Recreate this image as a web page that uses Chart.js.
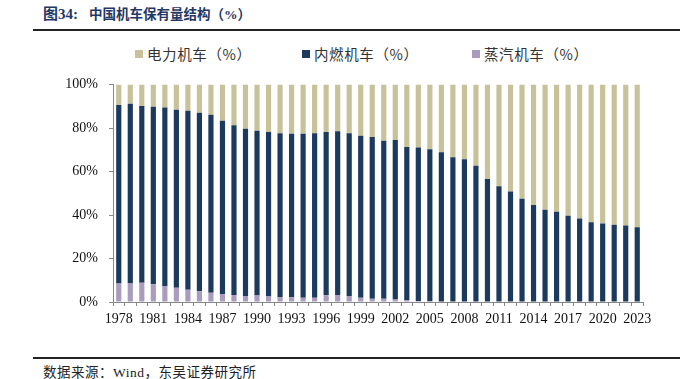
<!DOCTYPE html>
<html><head><meta charset="utf-8">
<script src="https://cdn.jsdelivr.net/npm/chart.js@4"></script>
<style>
html,body{margin:0;padding:0;background:#fff;}
body{width:680px;height:379px;position:relative;overflow:hidden;font-family:"Liberation Serif","Noto Sans CJK SC",serif;}
#title{position:absolute;left:43px;top:6px;font:bold 13.5px "Liberation Serif","Noto Sans CJK SC",serif;color:#1f3864;white-space:nowrap;line-height:16px;}
#title .num{font-size:15px;}
.hr{position:absolute;left:33px;right:0;height:2px;background:#222;}
#legend{position:absolute;top:43px;left:0;width:680px;height:20px;font:14.5px "Noto Sans CJK SC",sans-serif;color:#333;letter-spacing:0.6px;}
.li{position:absolute;top:0;white-space:nowrap;}
.sw{display:inline-block;width:8px;height:8px;margin-right:4px;vertical-align:middle;position:relative;top:-2px;}
#src{position:absolute;left:43px;top:366px;font:13.5px "Liberation Serif","Noto Sans CJK SC",serif;color:#222;white-space:nowrap;line-height:14px;letter-spacing:0.5px;}
#wrap{position:absolute;left:0;top:60px;width:680px;height:272px;}
</style></head>
<body>
<div id="title"><span class="num">图34:</span><span style="margin-left:11px">中国机车保有量结构（%）</span></div>
<div class="hr" style="top:29px;"></div>
<div id="legend"></div>
<div id="wrap"><canvas id="c"></canvas></div>
<div class="hr" style="top:357px;"></div>
<div id="src">数据来源：Wind，东吴证券研究所</div>
<script>
const years = [];
for (let y = 1978; y <= 2023; y++) years.push(String(y));

// diesel + steam top (% of total)
const dieselPlusSteam = [90.6,91.1,90.1,89.8,89.4,88.4,87.9,87.0,86.1,83.3,81.3,79.6,78.7,78.2,77.6,77.3,77.3,77.6,78.2,78.5,77.6,76.4,75.9,
  74.1,74.5,71.3,71.0,70.2,68.8,66.5,65.6,62.7,56.5,53.2,50.8,47.5,44.6,42.4,41.5,39.7,38.4,36.7,36.1,35.5,35.2,34.4];
const steam = [8.5,8.5,8.8,8.2,7.4,6.5,5.6,4.9,4.3,3.7,3.2,2.8,3.0,2.5,2.3,2.2,1.9,1.9,3.1,3.2,2.8,2.0,1.5,
  1.5,1.2,0.9,0.5,0.3,0,0,0,0,0,0,0,0,0,0,0,0,0,0,0,0,0,0];
const diesel = dieselPlusSteam.map((v,i)=>+(v - steam[i]).toFixed(1));
const electric = dieselPlusSteam.map(v=>+(100 - v).toFixed(1));
const yTicks = [0,20,40,60,80,100];

const series = [
  {label:'电力机车（%）', data:electric, color:'#c8c29b'},
  {label:'内燃机车（%）', data:diesel, color:'#1c3a5e'},
  {label:'蒸汽机车（%）', data:steam, color:'#a99cbf'}
];
const legendX = [135, 302, 472];
const lg = document.getElementById('legend');
series.forEach((s,i)=>{
  const d = document.createElement('div');
  d.className='li'; d.style.left = legendX[i]+'px';
  d.innerHTML = '<span class="sw" style="background:'+s.color+'"></span>'+s.label;
  lg.appendChild(d);
});

// draw order: steam at bottom, then diesel, then electric
const datasets = [series[2], series[1], series[0]].map(s=>({
  label:s.label, data:s.data, backgroundColor:s.color, borderWidth:0,
  categoryPercentage:1.0, barPercentage:0.45
}));

new Chart(document.getElementById('c'), {
  type:'bar',
  data:{labels:years, datasets},
  options:{
    responsive:true, maintainAspectRatio:false, animation:false,
    layout:{padding:{left:0,right:37,top:24.5,bottom:0}},
    plugins:{legend:{display:false}, tooltip:{enabled:false}},
    scales:{
      x:{stacked:true,
        grid:{display:true,drawOnChartArea:false,offset:true,tickLength:4,color:'#888'},
        border:{display:true,color:'#888',width:1},
        ticks:{autoSkip:false,maxRotation:0,minRotation:0,padding:5,color:'#111',
          font:{family:'"Liberation Serif", serif',size:14},
          callback:function(v,i){return i%3===0 ? years[i] : '';}},
        afterFit:function(s){s.height=30;}
      },
      y:{stacked:true,min:0,max:100,
        afterBuildTicks:function(s){s.ticks = yTicks.map(v=>({value:v}));},
        grid:{display:true,drawOnChartArea:false,tickLength:4,color:'#888'},
        border:{display:true,color:'#888',width:1},
        ticks:{padding:11,color:'#111',font:{family:'"Liberation Serif", serif',size:14},
          callback:v=>v+'%'},
        afterFit:function(s){s.width=113;}
      }
    }
  }
});
</script>
</body></html>
